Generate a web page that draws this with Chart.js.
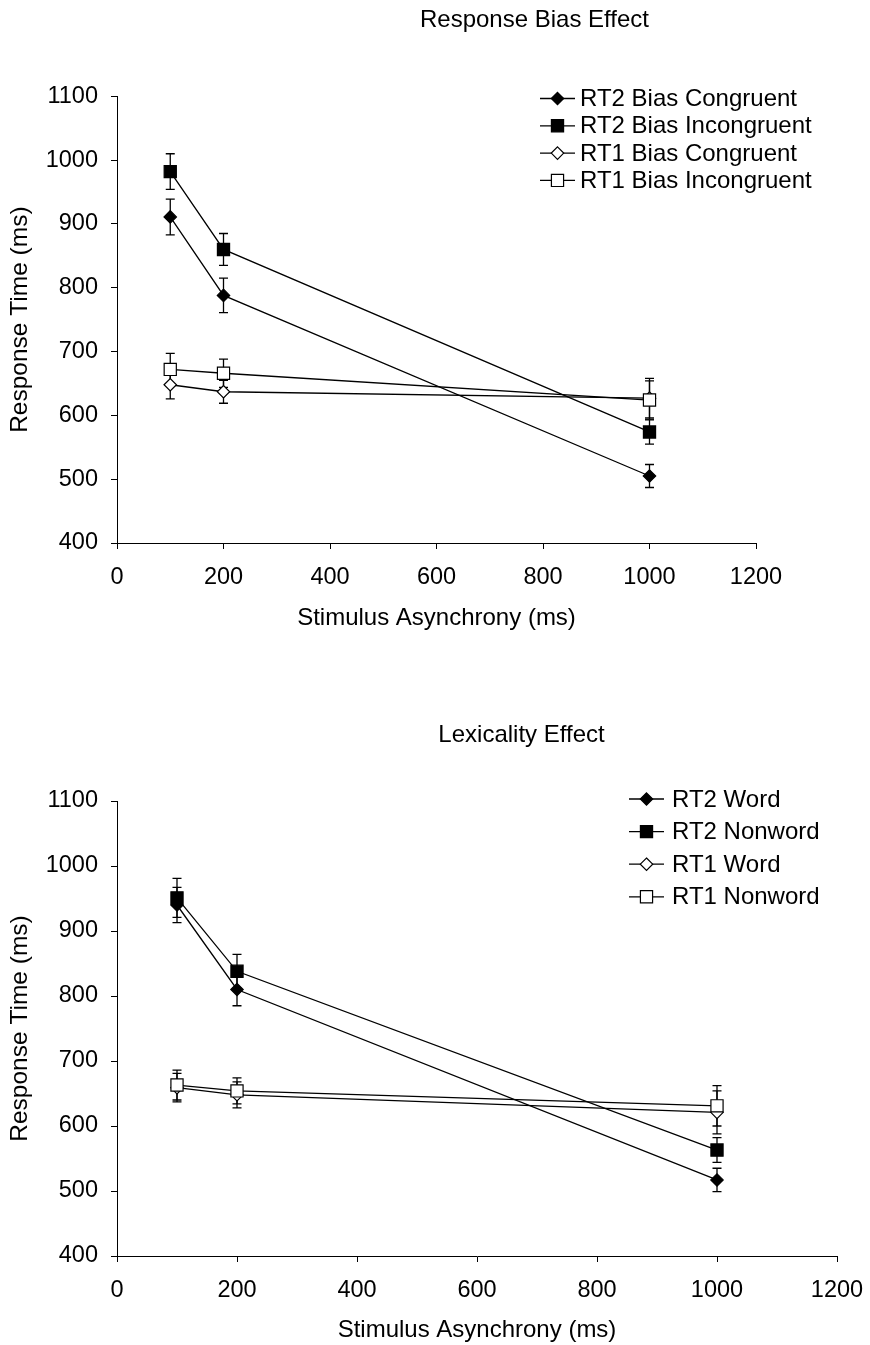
<!DOCTYPE html>
<html>
<head>
<meta charset="utf-8">
<script src="https://cdn.jsdelivr.net/npm/chart.js@4.4.1/dist/chart.umd.min.js"></script>
<style>
  html, body { margin: 0; padding: 0; background: #ffffff; }
  #wrap { position: relative; width: 870px; height: 1345px; }
  canvas { position: absolute; left: 0; }
  #biasChart { top: 0; }
  #lexChart { top: 670px; }
</style>
</head>
<body>
<div id="wrap">
  <canvas id="biasChart"></canvas>
  <canvas id="lexChart"></canvas>
</div>
<script>
// Stimulus onset asynchrony (ms) shared by both panels
const asynchrony = [100, 200, 1000];
const xTickValues = [0, 200, 400, 600, 800, 1000, 1200];
const yTickValues = [400, 500, 600, 700, 800, 900, 1000, 1100];

// Response Bias panel: mean RTs and error bars (ms)
const biasLabels = ['RT2 Bias Congruent', 'RT2 Bias Incongruent', 'RT1 Bias Congruent', 'RT1 Bias Incongruent'];
const rt2BiasCongruent = [911, 788, 505];
const rt2BiasCongruentErr = [28, 27, 18];
const rt2BiasIncongruent = [982, 860, 574];
const rt2BiasIncongruentErr = [28, 25, 19];
const rt1BiasCongruent = [648, 637, 627];
const rt1BiasCongruentErr = [22, 18, 31];
const rt1BiasIncongruent = [672, 666, 624];
const rt1BiasIncongruentErr = [25, 22, 30];

// Lexicality panel: mean RTs and error bars (ms)
const lexLabels = ['RT2 Word', 'RT2 Nonword', 'RT1 Word', 'RT1 Nonword'];
const rt2Word = [940, 810, 517];
const rt2WordErr = [27, 25, 18];
const rt2Nonword = [951, 838, 563];
const rt2NonwordErr = [30, 26, 19];
const rt1Word = [659, 648, 621];
const rt1WordErr = [22, 20, 33];
const rt1Nonword = [663, 654, 631];
const rt1NonwordErr = [23, 20, 31];

const FONT = "'Liberation Sans', Arial, Helvetica, sans-serif";
Chart.defaults.font.family = FONT;
Chart.defaults.color = '#000000';

// marker styles: filled diamond, filled square, open diamond, open square
const markerStyles = [
  { pointStyle: 'rectRot', radius: 6.2, fill: '#000000' },
  { pointStyle: 'rect', radius: 8.6, fill: '#000000' },
  { pointStyle: 'rectRot', radius: 6.2, fill: '#ffffff' },
  { pointStyle: 'rect', radius: 8.6, fill: '#ffffff' }
];

function makeDataset(label, values, errors, idx) {
  const m = markerStyles[idx];
  return {
    label: label,
    data: values.map((v, i) => ({ x: asynchrony[i], y: v })),
    errors: errors,
    borderColor: '#000000',
    borderWidth: 1.3,
    pointStyle: m.pointStyle,
    pointRadius: m.radius,
    pointHoverRadius: m.radius,
    pointBackgroundColor: m.fill,
    pointBorderColor: '#000000',
    pointBorderWidth: 1.2,
    fill: false,
    tension: 0,
    order: 3 - idx
  };
}

// vertical error bars with caps, drawn beneath the markers
const errorBarPlugin = {
  id: 'errorBars',
  beforeDatasetsDraw(chart) {
    const ctx = chart.ctx;
    const xs = chart.scales.x, ys = chart.scales.y;
    ctx.save();
    ctx.strokeStyle = '#000000';
    ctx.lineWidth = 1.3;
    const cap = 4.5;
    chart.data.datasets.slice().reverse().forEach(ds => {
      ds.data.forEach((p, i) => {
        const e = ds.errors[i];
        const x = xs.getPixelForValue(p.x);
        const yT = ys.getPixelForValue(p.y + e);
        const yB = ys.getPixelForValue(p.y - e);
        ctx.beginPath();
        ctx.moveTo(x, yT); ctx.lineTo(x, yB);
        ctx.moveTo(x - cap, yT); ctx.lineTo(x + cap, yT);
        ctx.moveTo(x - cap, yB); ctx.lineTo(x + cap, yB);
        ctx.stroke();
      });
    });
    ctx.restore();
  }
};

function drawMarker(ctx, style, x, y) {
  ctx.beginPath();
  if (style.pointStyle === 'rect') {
    const h = style.radius * Math.SQRT1_2;
    ctx.rect(x - h, y - h, 2 * h, 2 * h);
  } else {
    const r = style.radius;
    ctx.moveTo(x, y - r); ctx.lineTo(x + r, y); ctx.lineTo(x, y + r); ctx.lineTo(x - r, y);
    ctx.closePath();
  }
  ctx.fillStyle = style.fill;
  ctx.fill();
  ctx.lineWidth = 1.2;
  ctx.strokeStyle = '#000000';
  ctx.stroke();
}

// panel heading and the line+marker key
const panelDecorPlugin = {
  id: 'panelDecor',
  afterDraw(chart, args, opts) {
    const ctx = chart.ctx;
    ctx.save();
    ctx.fillStyle = '#000000';
    ctx.font = '24px ' + FONT;
    ctx.textAlign = 'center';
    ctx.textBaseline = 'middle';
    ctx.fillText(opts.title, opts.titleX, opts.titleY);

    ctx.textAlign = 'left';
    chart.data.datasets.forEach((ds, i) => {
      const y = opts.keyY + i * opts.keyGap;
      ctx.beginPath();
      ctx.strokeStyle = '#000000';
      ctx.lineWidth = 1.3;
      ctx.moveTo(opts.keyX0, y); ctx.lineTo(opts.keyX1, y);
      ctx.stroke();
      drawMarker(ctx, markerStyles[i], (opts.keyX0 + opts.keyX1) / 2, y);
      ctx.fillStyle = '#000000';
      ctx.fillText(ds.label, opts.keyTextX, y + 1);
    });
    ctx.restore();
  }
};

function axisOptions(cfg) {
  const tickFont = { size: 23.5, family: FONT };
  const titleFont = { size: 24.5, family: FONT };
  return {
    x: {
      type: 'linear',
      min: 0, max: 1200,
      afterBuildTicks: s => { s.ticks = xTickValues.map(v => ({ value: v })); },
      afterFit: s => { s.height = cfg.xHeight; s.paddingLeft = 0; s.paddingRight = 0; },
      grid: { display: true, drawOnChartArea: false, drawTicks: true, tickLength: 6, color: '#000000' },
      border: { display: true, color: '#000000', width: 1 },
      ticks: { font: tickFont, color: '#000000', padding: 14, maxRotation: 0, callback: v => String(v) },
      title: { display: true, text: 'Stimulus Asynchrony (ms)', font: { size: 24, family: FONT }, color: '#000000', padding: { top: 0, bottom: cfg.xTitlePad } }
    },
    y: {
      type: 'linear',
      min: 400, max: 1100,
      afterBuildTicks: s => { s.ticks = yTickValues.map(v => ({ value: v })); },
      afterFit: s => { s.width = 117; s.paddingTop = 0; s.paddingBottom = 0; },
      grid: { display: true, drawOnChartArea: false, drawTicks: true, tickLength: 6, color: '#000000' },
      border: { display: true, color: '#000000', width: 1 },
      ticks: { font: tickFont, color: '#000000', padding: 13, callback: v => String(v) },
      title: { display: true, text: 'Response Time (ms)', font: titleFont, color: '#000000', padding: { top: 6, bottom: 0 } }
    }
  };
}

function buildChart(canvasId, w, h, datasets, cfg) {
  const canvas = document.getElementById(canvasId);
  canvas.style.width = w + 'px';
  canvas.style.height = h + 'px';
  return new Chart(canvas, {
    type: 'line',
    data: { datasets: datasets },
    options: {
      responsive: false,
      animation: false,
      devicePixelRatio: 1,
      layout: { padding: { top: cfg.top, right: cfg.right, bottom: 0, left: 0 } },
      scales: axisOptions(cfg),
      plugins: {
        legend: { display: false },
        tooltip: { enabled: false },
        panelDecor: cfg.decor
      }
    },
    plugins: [errorBarPlugin, panelDecorPlugin]
  });
}

buildChart('biasChart', 870, 670, [
  makeDataset(biasLabels[0], rt2BiasCongruent, rt2BiasCongruentErr, 0),
  makeDataset(biasLabels[1], rt2BiasIncongruent, rt2BiasIncongruentErr, 1),
  makeDataset(biasLabels[2], rt1BiasCongruent, rt1BiasCongruentErr, 2),
  makeDataset(biasLabels[3], rt1BiasIncongruent, rt1BiasIncongruentErr, 3)
], {
  top: 96.3, right: 114, xHeight: 127, xTitlePad: 37.6,
  decor: { title: 'Response Bias Effect', titleX: 534.5, titleY: 20,
           keyX0: 540, keyX1: 575, keyTextX: 580, keyY: 98.5, keyGap: 27.3 }
});

buildChart('lexChart', 870, 675, [
  makeDataset(lexLabels[0], rt2Word, rt2WordErr, 0),
  makeDataset(lexLabels[1], rt2Nonword, rt2NonwordErr, 1),
  makeDataset(lexLabels[2], rt1Word, rt1WordErr, 2),
  makeDataset(lexLabels[3], rt1Nonword, rt1NonwordErr, 3)
], {
  top: 131, right: 33, xHeight: 89, xTitlePad: 0.6,
  decor: { title: 'Lexicality Effect', titleX: 521.5, titleY: 65,
           keyX0: 629, keyX1: 664, keyTextX: 672, keyY: 129, keyGap: 32.6 }
});
</script>
</body>
</html>
